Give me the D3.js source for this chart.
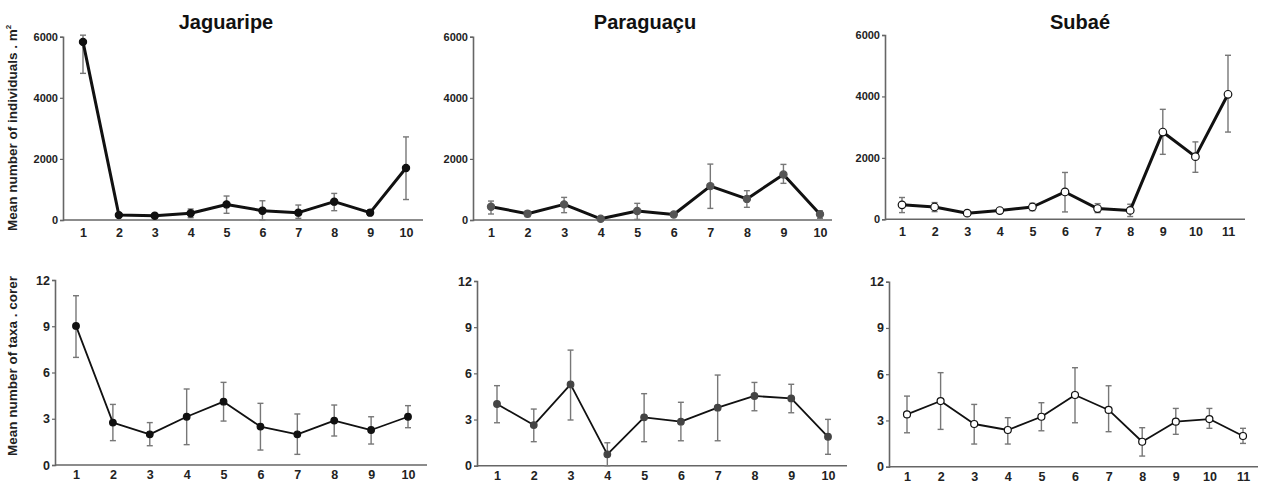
<!DOCTYPE html>
<html>
<head>
<meta charset="utf-8">
<script src="https://cdn.jsdelivr.net/npm/d3@7"></script>
<style>
  body { margin: 0; background: #fff; }
  svg { font-family: "Liberation Sans", Arial, sans-serif; }
</style>
</head>
<body>
<svg id="chart" width="1274" height="484"></svg>
<script>
// site names
var sites = ["Jaguaripe", "Paraguaçu", "Subaé"];

// density (individuals . m2): mean, upper and lower error bar ends
var jagDens   = [5830, 160, 140, 220, 510, 305, 240, 600, 240, 1700];
var jagDensHi = [6050, 230, 200, 360, 785, 630, 490, 870, 330, 2720];
var jagDensLo = [4800, 100, 80, 75, 220, 0, 55, 305, 150, 670];

var parDens   = [436, 207, 512, 40, 294, 180, 1110, 690, 1490, 190];
var parDensHi = [620, 300, 740, 90, 545, 240, 1830, 960, 1820, 300];
var parDensLo = [196, 110, 240, 0, 20, 130, 380, 415, 1200, 55];

var subDens   = [470, 400, 200, 285, 400, 890, 350, 290, 2840, 2040, 4070];
var subDensHi = [710, 545, 260, 340, 520, 1525, 510, 490, 3580, 2520, 5340];
var subDensLo = [218, 250, 140, 230, 280, 240, 217, 90, 2115, 1530, 2840];

// taxa per corer
var jagTaxa   = [9.02, 2.75, 1.99, 3.13, 4.11, 2.49, 1.99, 2.88, 2.27, 3.13];
var jagTaxaHi = [10.98, 3.93, 2.75, 4.93, 5.36, 4.0, 3.31, 3.89, 3.13, 3.85];
var jagTaxaLo = [6.98, 1.58, 1.25, 1.32, 2.85, 0.97, 0.69, 1.88, 1.36, 2.42];

var parTaxa   = [4.01, 2.64, 5.28, 0.74, 3.14, 2.86, 3.77, 4.53, 4.37, 1.88];
var parTaxaHi = [5.2, 3.68, 7.51, 1.49, 4.68, 4.12, 5.89, 5.41, 5.29, 3.01];
var parTaxaLo = [2.79, 1.56, 2.97, 0, 1.56, 1.62, 1.62, 3.57, 3.44, 0.74];

var subTaxa   = [3.39, 4.26, 2.77, 2.38, 3.24, 4.65, 3.68, 1.62, 2.92, 3.09, 1.99];
var subTaxaHi = [4.58, 6.1, 4.04, 3.18, 4.15, 6.42, 5.25, 2.53, 3.78, 3.78, 2.49];
var subTaxaLo = [2.2, 2.42, 1.47, 1.47, 2.33, 2.85, 2.27, 0.69, 2.1, 2.49, 1.51];

// y tick labels
var densTicks = [0, 2000, 4000, 6000];
var taxaTicks = [0, 3, 6, 9, 12];

var svg = d3.select("#chart");

// panel layout (pixel boxes only)
var panels = [
  { mean: jagDens, hi: jagDensHi, lo: jagDensLo, ticks: densTicks, max: 6000, ax: 63, xr: 423, p0: 83, p1: 406, top: 36.7, bot: 220, fill: "#111", stroke: "#111", lw: 3, r: 3.6 },
  { mean: parDens, hi: parDensHi, lo: parDensLo, ticks: densTicks, max: 6000, ax: 473, xr: 832, p0: 491, p1: 820, top: 36.7, bot: 220, fill: "#555", stroke: "#555", lw: 3, r: 3.6 },
  { mean: subDens, hi: subDensHi, lo: subDensLo, ticks: densTicks, max: 6000, ax: 885, xr: 1245, p0: 902, p1: 1228, top: 35, bot: 219.3, fill: "#fff", stroke: "#111", lw: 3, r: 3.8 },
  { mean: jagTaxa, hi: jagTaxaHi, lo: jagTaxaLo, ticks: taxaTicks, max: 12, ax: 55, xr: 427, p0: 76, p1: 408, top: 280, bot: 465, fill: "#111", stroke: "#111", lw: 1.8, r: 3.3 },
  { mean: parTaxa, hi: parTaxaHi, lo: parTaxaLo, ticks: taxaTicks, max: 12, ax: 477, xr: 847, p0: 497, p1: 828, top: 281, bot: 465.7, fill: "#444", stroke: "#444", lw: 1.8, r: 3.3 },
  { mean: subTaxa, hi: subTaxaHi, lo: subTaxaLo, ticks: taxaTicks, max: 12, ax: 889, xr: 1258, p0: 907, p1: 1243, top: 281.7, bot: 466.7, fill: "#fff", stroke: "#111", lw: 1.8, r: 3.5 }
];

panels.forEach(function (p, k) {
  var n = p.mean.length;
  var idx = d3.range(1, n + 1);
  var x = d3.scaleLinear().domain([1, n]).range([p.p0, p.p1]);
  var y = d3.scaleLinear().domain([0, p.max]).range([p.bot, p.top]);
  var g = svg.append("g");
  var topRow = k < 3;

  // y axis
  var yAxis = g.append("g")
    .attr("transform", "translate(" + p.ax + ",0)")
    .call(d3.axisLeft(y).tickValues(p.ticks).tickFormat(d3.format("d")).tickSize(3).tickPadding(2));
  yAxis.selectAll("text")
    .attr("font-size", topRow ? 11 : 12.5)
    .attr("font-weight", "bold")
    .attr("fill", "#222");

  // x axis (labels only, no ticks)
  var xAxis = g.append("g")
    .attr("transform", "translate(0," + p.bot + ")")
    .call(d3.axisBottom(x).tickValues(idx).tickFormat(d3.format("d")).tickSize(0).tickPadding(topRow ? 8 : 5));
  xAxis.select(".domain").attr("d", "M" + p.ax + ",0H" + p.xr);
  xAxis.selectAll("text")
    .attr("font-size", 12.5)
    .attr("font-weight", "bold")
    .attr("fill", "#222");

  g.selectAll(".domain").attr("stroke", "#666").attr("stroke-width", 1.6);
  g.selectAll(".tick line").attr("stroke", "#666").attr("stroke-width", 1.2);

  // error bars
  var eb = g.append("g").attr("stroke", "#777").attr("stroke-width", 1.4).attr("fill", "none");
  idx.forEach(function (i) {
    var cx = x(i), yh = y(p.hi[i - 1]), yl = y(p.lo[i - 1]);
    eb.append("line").attr("x1", cx).attr("x2", cx).attr("y1", yh).attr("y2", yl);
    eb.append("line").attr("x1", cx - 3).attr("x2", cx + 3).attr("y1", yh).attr("y2", yh);
    eb.append("line").attr("x1", cx - 3).attr("x2", cx + 3).attr("y1", yl).attr("y2", yl);
  });

  // mean line
  var line = d3.line().x(function (d, i) { return x(i + 1); }).y(function (d) { return y(d); });
  g.append("path").datum(p.mean)
    .attr("d", line)
    .attr("fill", "none")
    .attr("stroke", "#111")
    .attr("stroke-width", p.lw)
    .attr("stroke-linejoin", "round");

  g.selectAll("circle").data(p.mean).enter().append("circle")
    .attr("cx", function (d, i) { return x(i + 1); })
    .attr("cy", function (d) { return y(d); })
    .attr("r", p.r)
    .attr("fill", p.fill)
    .attr("stroke", p.stroke)
    .attr("stroke-width", 1.2);
});

// titles
var titleX = [226, 645, 1080];
sites.forEach(function (s, i) {
  svg.append("text")
    .attr("x", titleX[i]).attr("y", 29)
    .attr("text-anchor", "middle")
    .attr("font-size", 20)
    .attr("font-weight", "bold")
    .attr("fill", "#111")
    .text(s);
});

// y axis titles
var yt1 = svg.append("text")
  .attr("transform", "translate(17,128) rotate(-90)")
  .attr("text-anchor", "middle")
  .attr("font-size", 13.5)
  .attr("font-weight", "bold")
  .attr("fill", "#222");
yt1.append("tspan").text("Mean number of individuals . m");
yt1.append("tspan").attr("dy", -6).attr("font-size", 8).text("2");

svg.append("text")
  .attr("transform", "translate(17,366) rotate(-90)")
  .attr("text-anchor", "middle")
  .attr("font-size", 13.5)
  .attr("font-weight", "bold")
  .attr("fill", "#222")
  .text("Mean number of taxa . corer");
</script>
</body>
</html>
